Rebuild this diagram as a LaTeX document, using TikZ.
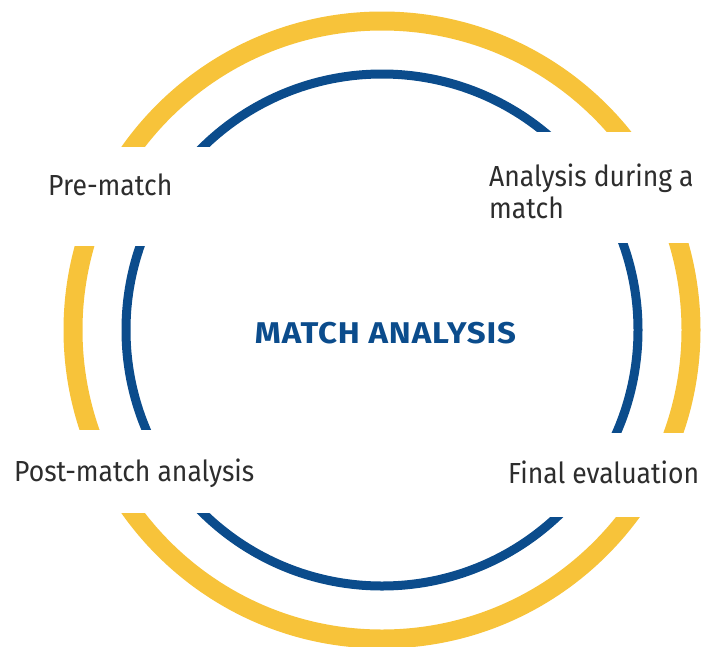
\documentclass[tikz,border=0pt]{standalone}
\usepackage{fontspec}
\setmainfont{Fira Sans}[FakeStretch=0.915]
\newfontfamily\headfont{Fira Sans}[FakeStretch=1.1, LetterSpace=3]
\definecolor{gold}{RGB}{247, 195, 58}
\definecolor{navy}{RGB}{11, 76, 140}
\definecolor{ink}{RGB}{45, 45, 45}

\begin{document}
\begin{tikzpicture}[x=1pt, y=-1pt,
    stagetext/.style={text=ink, font=\fontsize{29}{32}\selectfont, inner sep=0pt, align=left, anchor=base west},
    heading/.style={text=navy, font=\headfont\bfseries\fontsize{30}{36}\selectfont, inner sep=0pt, anchor=base}]
  \useasboundingbox (0, 0) rectangle (715, 646);
  \pgfmathsetmacro{\cx}{382}
  \pgfmathsetmacro{\cy}{330}

  % Rings
  \draw [gold, line width=19pt] (\cx, \cy) circle (309pt);
  \draw [navy, line width=9pt] (\cx, \cy) circle (256pt);

  % Gaps
  \fill [white] (0, 147) rectangle (\cx, 246);
  \fill [white] (\cx, 132) rectangle (715, 243);
  \fill [white] (0, 430) rectangle (\cx, 513);
  \fill [white] (\cx, 433) rectangle (715, 517);

  % Stages
  \node (pre) [stagetext] at (48, 195) {Pre-match};
  \node (during) [stagetext] at (489, 218) {Analysis during a\\match};
  \node (post) [stagetext] at (14, 481) {Post-match analysis};
  \node (final) [stagetext] at (508, 483) {Final evaluation};

  \node (title) [heading] at (385.5, 343) {MATCH ANALYSIS};
\end{tikzpicture}
\end{document}
